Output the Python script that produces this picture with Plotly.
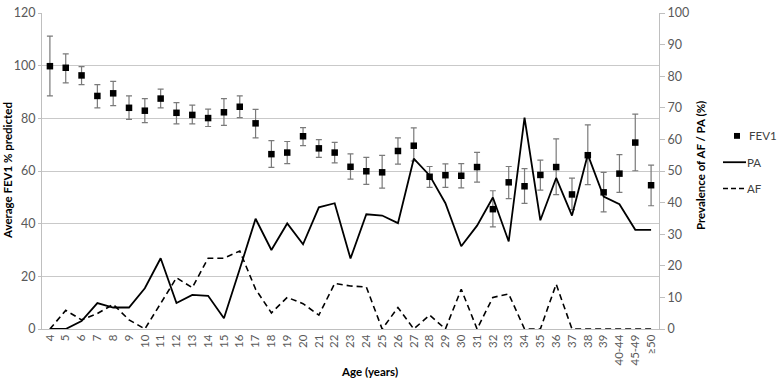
import plotly.graph_objects as go

ages = ["4", "5", "6", "7", "8", "9", "10", "11", "12", "13", "14", "15", "16", "17",
        "18", "19", "20", "21", "22", "23", "24", "25", "26", "27", "28", "29", "30",
        "31", "32", "33", "34", "35", "36", "37", "38", "39", "40-44", "45-49", "≥50"]

fev1_mean = [99.8, 99.2, 96.3, 88.5, 89.5, 84.0, 82.9, 87.5, 82.1, 81.3, 80.1, 82.3, 84.4, 78.1,
             66.4, 67.0, 73.2, 68.6, 67.0, 61.6, 59.9, 59.5, 67.6, 69.6, 57.8, 58.4, 58.2,
             61.5, 45.5, 55.7, 54.2, 58.5, 61.5, 51.1, 66.0, 51.9, 59.0, 70.8, 54.6]
fev1_upper = [111.2, 104.5, 99.6, 92.8, 94.0, 88.5, 87.5, 91.1, 86.0, 85.0, 83.5, 87.5, 88.5, 83.4,
              71.5, 71.2, 76.5, 71.9, 70.9, 66.5, 65.2, 65.9, 72.6, 76.4, 61.7, 62.7, 62.8,
              67.1, 52.5, 61.7, 60.9, 64.1, 72.2, 57.3, 77.5, 59.5, 66.2, 81.6, 62.2]
fev1_lower = [88.5, 93.5, 92.8, 84.0, 84.8, 79.6, 78.4, 84.0, 77.9, 77.9, 76.9, 77.3, 80.3, 72.6,
              61.4, 62.8, 69.6, 65.2, 63.1, 56.9, 54.9, 53.5, 62.6, 63.8, 53.8, 53.8, 53.6,
              55.8, 38.8, 49.5, 47.7, 52.7, 51.0, 45.3, 54.8, 44.5, 51.9, 60.1, 46.8]

pa = [0, 0, 2.5, 8.2, 6.8, 6.8, 12.9, 22.4, 8.2, 10.8, 10.5, 3.4, 19.0, 34.9,
      25.0, 33.4, 26.8, 38.5, 39.8, 22.3, 36.3, 35.9, 33.5, 53.9, 48.6, 39.8, 26.2,
      32.7, 41.6, 27.7, 66.9, 34.4, 47.8, 35.9, 55.2, 41.9, 39.5, 31.4, 31.4]

af = [0, 5.9, 2.9, 4.9, 7.8, 2.9, 0, 8.0, 16.2, 13.1, 22.4, 22.4, 24.7, 12.6,
      5.1, 10.0, 8.0, 4.4, 14.4, 13.6, 13.3, 0, 6.8, 0, 4.4, 0, 12.6,
      0, 10.0, 11.1, 0, 0, 14.2, 0, 0, 0, 0, 0, 0]

err_plus = [u - m for u, m in zip(fev1_upper, fev1_mean)]
err_minus = [m - l for m, l in zip(fev1_mean, fev1_lower)]

FONT = "Lato, 'Open Sans', sans-serif"
TICKC = "#595959"
GRID = "#c9c9c9"

W, H = 778, 381
ML, MR, MT, MB = 42, 119, 5, 52
PW, PH = W - ML - MR, H - MT - MB


def px(xpix):
    return (xpix - ML) / PW


def py(ypix):
    return (H - MB - ypix) / PH


fig = go.Figure()

fig.add_trace(go.Scatter(
    x=ages, y=fev1_mean, name="FEV1", mode="markers",
    marker=dict(symbol="square", size=6.5, color="black"),
    error_y=dict(type="data", symmetric=False, array=err_plus, arrayminus=err_minus,
                 color="#7a7a7a", thickness=1.2, width=3),
    showlegend=False, yaxis="y"))

fig.add_trace(go.Scatter(
    x=ages, y=pa, name="PA", mode="lines",
    line=dict(color="black", width=1.8),
    showlegend=False, yaxis="y2"))

fig.add_trace(go.Scatter(
    x=ages, y=af, name="AF", mode="lines",
    line=dict(color="black", width=1.6, dash="6px,4px"),
    showlegend=False, yaxis="y2"))

# legend (drawn in paper space)
shapes = [
    dict(type="rect", xref="paper", yref="paper",
         x0=px(734), x1=px(740), y0=py(134), y1=py(128),
         fillcolor="black", line=dict(width=0)),
    dict(type="line", xref="paper", yref="paper",
         x0=px(723), x1=px(746), y0=py(158), y1=py(158),
         line=dict(color="black", width=1.8)),
    dict(type="line", xref="paper", yref="paper",
         x0=px(723), x1=px(746), y0=py(185), y1=py(185),
         line=dict(color="black", width=1.6, dash="5px,3px")),
]

legend_font = dict(family=FONT, size=11.5, color="#404040")
annotations = [
    dict(text="FEV1", xref="paper", yref="paper", x=px(747), y=py(131),
         xanchor="left", yanchor="middle", showarrow=False, font=legend_font),
    dict(text="PA", xref="paper", yref="paper", x=px(745), y=py(158),
         xanchor="left", yanchor="middle", showarrow=False, font=legend_font),
    dict(text="AF", xref="paper", yref="paper", x=px(745), y=py(185),
         xanchor="left", yanchor="middle", showarrow=False, font=legend_font),
    dict(text="<b>Average FEV1 % predicted</b>", xref="paper", yref="paper",
         x=px(7), y=py(167), textangle=-90, showarrow=False,
         xanchor="center", yanchor="middle",
         font=dict(family=FONT, size=11.5, color="black")),
    dict(text="<b>Prevalence of AF / PA (%)</b>", xref="paper", yref="paper",
         x=px(700), y=py(162), textangle=-90, showarrow=False,
         xanchor="center", yanchor="middle",
         font=dict(family=FONT, size=11.5, color="black")),
    dict(text="<b>Age (years)</b>", xref="paper", yref="paper",
         x=px(369), y=py(373), showarrow=False,
         xanchor="center", yanchor="middle",
         font=dict(family=FONT, size=11.5, color="black")),
]

fig.update_layout(
    width=W, height=H,
    margin=dict(l=ML, r=MR, t=MT, b=MB),
    paper_bgcolor="white", plot_bgcolor="white",
    font=dict(family=FONT, size=12, color=TICKC),
    xaxis=dict(type="category", range=[-0.5, 38.5], tickangle=-90,
               showline=True, linecolor="#bfbfbf", linewidth=1,
               ticks="", showgrid=False, zeroline=False,
               tickfont=dict(family=FONT, size=11.5, color=TICKC)),
    yaxis=dict(range=[0, 120], dtick=20, showgrid=True, gridcolor=GRID, gridwidth=1,
               showline=True, linecolor="#bfbfbf", linewidth=1, zeroline=False,
               ticks="outside", ticklen=3, tickcolor="#bfbfbf",
               ticklabeloverflow="allow",
               tickfont=dict(family=FONT, size=12.5, color=TICKC)),
    yaxis2=dict(range=[0, 100], dtick=10, overlaying="y", side="right",
                showgrid=False, zeroline=False, showline=True, linecolor="#bfbfbf",
                linewidth=1, ticks="outside", ticklen=5, tickcolor="#bfbfbf",
                ticklabeloverflow="allow",
                tickfont=dict(family=FONT, size=12.5, color=TICKC)),
    showlegend=False,
    shapes=shapes,
    annotations=annotations,
)

fig.write_html("out.html", config={"displayModeBar": False},
               post_script="document.body.style.margin='0';document.body.style.padding='0';")
